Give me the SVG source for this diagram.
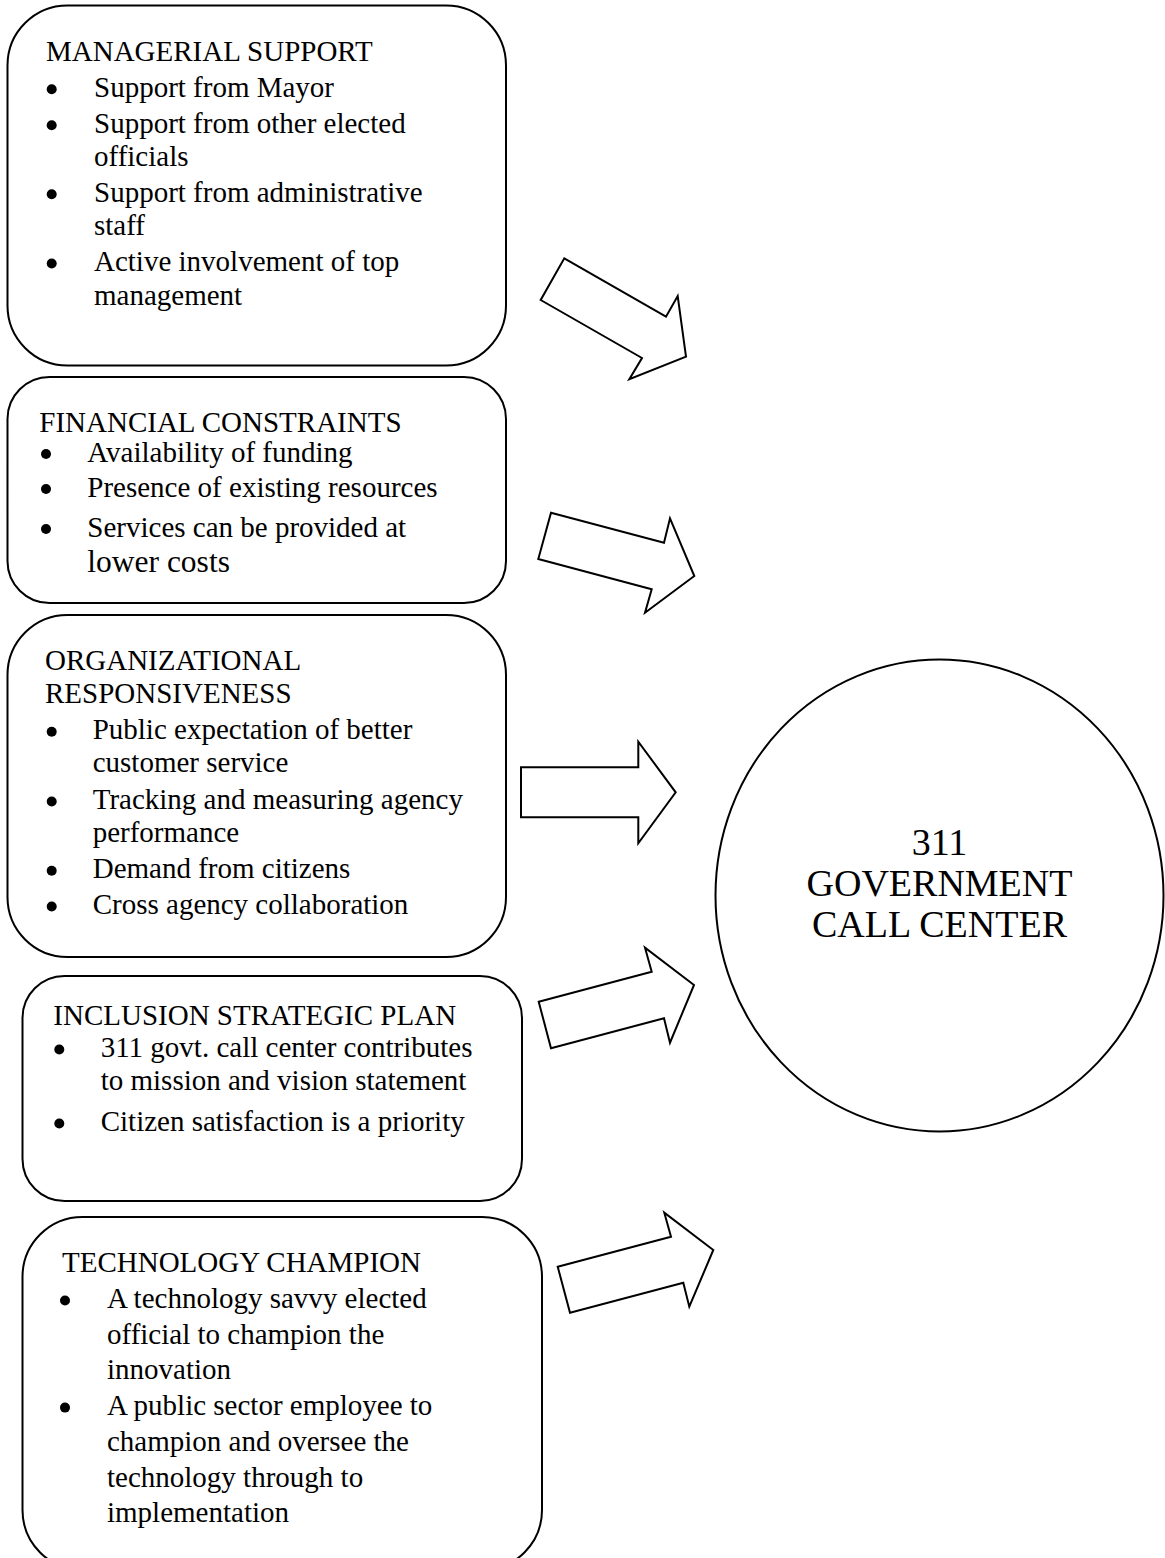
<svg xmlns="http://www.w3.org/2000/svg" width="1165" height="1558" viewBox="0 0 1165 1558">
  <style>
    .box { fill: #ffffff; stroke: #000000; stroke-width: 2; }
    .hub { fill: #ffffff; stroke: #000000; stroke-width: 2; }
    .arrow { fill: #ffffff; stroke: #000000; stroke-width: 2; stroke-linejoin: miter; }
    .t { font-family: "Liberation Serif", "Times New Roman", Times, serif; font-size: 29px; fill: #000000; }
    .big { font-size: 31.5px; }
    .hubt { font-family: "Liberation Serif", "Times New Roman", Times, serif; font-size: 38px; fill: #000000; text-anchor: middle; }
    .dot { fill: #000000; }
  </style>
  <rect width="1165" height="1558" fill="#ffffff"/>

  <!-- block arrows feeding the call centre -->
  <g id="connectors">
    <polygon class="arrow" points="564.3,258.3 666,316.7 677.7,296 686,356.7 629.3,379.3 642,358 540.7,300"/>
    <polygon class="arrow" points="551,512.7 664,542.7 670,518.3 694.3,576 645,612.7 651.7,589.3 538.3,559"/>
    <polygon class="arrow" points="521,767.3 638.3,767.3 638.3,741.7 675.7,792.3 638.3,843.3 638.3,817.3 521,817.3"/>
    <polygon class="arrow" points="538.7,1001.7 651.7,971.7 645,947.7 694,985 670,1042.7 664,1018.3 551,1048.3"/>
    <polygon class="arrow" points="557.7,1266.7 671,1236.7 664.3,1212.7 713.3,1250 689.3,1306.7 683.3,1282.7 570,1312.7"/>
  </g>

  <g id="managerial-support">
    <rect class="box" x="7.5" y="5.5" width="498.5" height="360" rx="60" ry="60"/>
    <text class="t" x="46" y="61">MANAGERIAL SUPPORT</text>
    <circle class="dot" cx="51.7" cy="89.2" r="5"/>
    <text class="t" x="94" y="96.7">Support from Mayor</text>
    <circle class="dot" cx="51.7" cy="125.2" r="5"/>
    <text class="t" x="94" y="132.7">Support from other elected</text>
    <text class="t" x="94" y="165.5">officials</text>
    <circle class="dot" cx="51.7" cy="194.2" r="5"/>
    <text class="t" x="94" y="201.7">Support from administrative</text>
    <text class="t" x="94" y="234.5">staff</text>
    <circle class="dot" cx="51.7" cy="263.5" r="5"/>
    <text class="t" x="94" y="271">Active involvement of top</text>
    <text class="t" x="94" y="305">management</text>
  </g>

  <g id="financial-constraints">
    <rect class="box" x="7.5" y="377" width="498.5" height="226" rx="42" ry="42"/>
    <text class="t" x="39.3" y="432">FINANCIAL CONSTRAINTS</text>
    <circle class="dot" cx="46" cy="454" r="5"/>
    <text class="t" x="87.3" y="461.5">Availability of funding</text>
    <circle class="dot" cx="46" cy="489" r="5"/>
    <text class="t" x="87.3" y="496.7">Presence of existing resources</text>
    <circle class="dot" cx="46" cy="529" r="5"/>
    <text class="t" x="87.3" y="536.7">Services can be provided at</text>
    <text class="t big" x="87.3" y="571.7">lower costs</text>
  </g>

  <g id="organizational-responsiveness">
    <rect class="box" x="7.5" y="615" width="498.5" height="342" rx="60" ry="60"/>
    <text class="t" x="45" y="670">ORGANIZATIONAL</text>
    <text class="t" x="45" y="703">RESPONSIVENESS</text>
    <circle class="dot" cx="51.7" cy="731.7" r="5"/>
    <text class="t" x="92.7" y="739.2">Public expectation of better</text>
    <text class="t" x="92.7" y="772.3">customer service</text>
    <circle class="dot" cx="51.7" cy="801.5" r="5"/>
    <text class="t" x="92.7" y="809">Tracking and measuring agency</text>
    <text class="t" x="92.7" y="841.7">performance</text>
    <circle class="dot" cx="51.7" cy="870.8" r="5"/>
    <text class="t" x="92.7" y="878.3">Demand from citizens</text>
    <circle class="dot" cx="51.7" cy="906.5" r="5"/>
    <text class="t" x="92.7" y="914">Cross agency collaboration</text>
  </g>

  <g id="inclusion-strategic-plan">
    <rect class="box" x="22.5" y="976" width="499.5" height="225" rx="42" ry="42"/>
    <text class="t" x="53.3" y="1025">INCLUSION STRATEGIC PLAN</text>
    <circle class="dot" cx="59.3" cy="1049.5" r="5"/>
    <text class="t" x="100.7" y="1057">311 govt. call center contributes</text>
    <text class="t" x="100.7" y="1089.5">to mission and vision statement</text>
    <circle class="dot" cx="59.3" cy="1123.5" r="5"/>
    <text class="t" x="100.7" y="1131">Citizen satisfaction is a priority</text>
  </g>

  <g id="technology-champion">
    <rect class="box" x="22.5" y="1217" width="519.5" height="353" rx="60" ry="60"/>
    <text class="t" x="62" y="1272">TECHNOLOGY CHAMPION</text>
    <circle class="dot" cx="65" cy="1300.5" r="5"/>
    <text class="t" x="107" y="1308">A technology savvy elected</text>
    <text class="t" x="107" y="1343.7">official to champion the</text>
    <text class="t" x="107" y="1379.4">innovation</text>
    <circle class="dot" cx="65" cy="1407.6" r="5"/>
    <text class="t" x="107" y="1415.1">A public sector employee to</text>
    <text class="t" x="107" y="1450.8">champion and oversee the</text>
    <text class="t" x="107" y="1486.5">technology through to</text>
    <text class="t" x="107" y="1522.2">implementation</text>
  </g>

  <g id="call-center">
    <ellipse class="hub" cx="939.5" cy="895.5" rx="224" ry="236"/>
    <text class="hubt" x="939.5" y="855">311</text>
    <text class="hubt" x="939.5" y="896">GOVERNMENT</text>
    <text class="hubt" x="939.5" y="937">CALL CENTER</text>
  </g>
</svg>
